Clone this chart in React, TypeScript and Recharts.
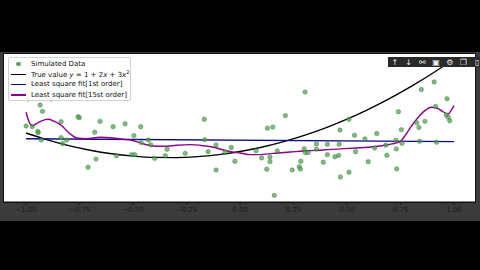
import { ComposedChart, Scatter, Line, XAxis, YAxis } from "recharts";

// simulated data points
const DATA_X = [
  -0.991, -0.883, -0.934, -0.923, -1.0, -0.971, -0.945, -0.943, -0.929, -0.836,
  -0.836, -0.829, -0.81, -0.757, -0.751, -0.679, -0.654, -0.593, -0.673, -0.71,
  -0.578, -0.537, -0.464, -0.496, -0.462, -0.428, -0.417, -0.507, -0.492, -0.399,
  -0.349, -0.341, -0.256, -0.167, -0.165, -0.112, -0.149, -0.112, -0.07, -0.041,
  -0.024, 0.304, 0.212, 0.128, 0.153, 0.075, 0.101, 0.14, 0.14, 0.125,
  0.174, 0.16, 0.284, 0.244, 0.277, 0.282, 0.3, 0.305, 0.318, 0.357,
  0.357, 0.389, 0.408, 0.408, 0.444, 0.461, 0.463, 0.467, 0.469, 0.509,
  0.509, 0.535, 0.54, 0.584, 0.599, 0.629, 0.639, 0.681, 0.686, 0.729,
  0.73, 0.732, 0.757, 0.839, 0.918, 0.907, 0.847, 0.967, 0.74, 0.914,
  0.826, 0.864, 0.836, 0.754, 0.963, 0.973, 0.98,
];
const DATA_Y = [
  3.84, 3.84, 3.51, 3.17, 2.38, 2.35, 2.09, 2.02, 1.62, 2.61,
  1.75, 1.43, 1.62, 2.88, 2.83, 2.04, 2.63, 2.34, 0.59, 0.15,
  0.77, 2.5, 2.34, 1.86, 1.48, 1.62, 1.36, 0.83, 0.83, 0.63,
  0.77, 1.12, 0.9, 2.74, 1.64, 1.35, 0.99, 0.0, 0.97, 1.22,
  0.47, 4.21, 2.94, 2.26, 2.32, 1.04, 0.65, 0.69, 0.45, 0.04,
  1.03, -1.37, 0.47, 0.0, 0.18, 0.05, 1.15, 0.94, 0.94, 1.41,
  1.12, 0.42, 0.83, 1.39, 0.72, 0.79, 1.39, 2.16, -0.38, -0.12,
  2.74, 1.88, 0.99, 1.68, 0.45, 1.19, 1.97, 1.34, 0.8, 1.61,
  1.14, 0.06, 1.44, 1.55, 1.5, 4.76, 4.35, 3.85, 3.15, 3.44,
  2.55, 2.63, 2.3, 2.18, 2.97, 2.85, 2.66,
];

// true value curve
const TRUE_X = [-1, -0.9, -0.8, -0.7, -0.6, -0.5, -0.4, -0.3, -0.2, -0.1, 0, 0.1, 0.2, 0.3, 0.4, 0.5, 0.6, 0.7, 0.8, 0.9, 1];
const TRUE_Y = [2, 1.63, 1.32, 1.07, 0.88, 0.75, 0.68, 0.67, 0.72, 0.83, 1, 1.23, 1.52, 1.87, 2.28, 2.75, 3.28, 3.87, 4.52, 5.23, 6];

// 1st order fit
const FIT1_X = [-1, 1];
const FIT1_Y = [1.69, 1.53];

// 15th order fit, traced
const FIT15_X = [
  -1, -0.985, -0.97, -0.95, -0.927, -0.896, -0.864, -0.833, -0.81, -0.787,
  -0.763, -0.717, -0.654, -0.592, -0.545, -0.498, -0.452, -0.405, -0.358, -0.296,
  -0.234, -0.171, -0.125, -0.078, -0.031, 0.0, 0.047, 0.093, 0.156, 0.234,
  0.312, 0.389, 0.467, 0.545, 0.6, 0.662, 0.709, 0.748, 0.771, 0.802,
  0.833, 0.864, 0.896, 0.919, 0.946, 0.973, 0.986, 1,
];
const FIT15_Y = [
  3.12, 2.58, 2.39, 2.52, 2.66, 2.74, 2.61, 2.39, 2.12, 1.89,
  1.73, 1.69, 1.77, 1.73, 1.66, 1.58, 1.41, 1.3, 1.28, 1.34,
  1.37, 1.31, 1.23, 1.08, 0.96, 0.92, 0.83, 0.83, 0.9, 0.97,
  1.04, 1.08, 1.14, 1.19, 1.23, 1.31, 1.41, 1.53, 1.85, 2.39,
  2.85, 3.21, 3.39, 3.35, 3.17, 3.03, 3.21, 3.48,
];

const X_TICKS = [-1, -0.75, -0.5, -0.25, 0, 0.25, 0.5, 0.75, 1];

const FONT = "'DejaVu Sans', sans-serif";

const pts = (xs: number[], ys: number[]) => xs.map((x, i) => ({ x, y: ys[i] }));

const Dot = (props: any) => (
  <circle cx={props.cx} cy={props.cy} r={2.2} fill="#4f9d4f" fillOpacity={0.7} stroke="#3c7f3c" strokeOpacity={0.8} strokeWidth={0.6} />
);

function LegendBox() {
  const row = { display: "flex", alignItems: "center", height: 10.3 } as const;
  const line = (c: string) => <div style={{ width: 15, height: 1.4, background: c, marginRight: 5 }} />;
  return (
    <div
      style={{
        position: "absolute", left: 8, top: 57, width: 119, height: 41, background: "rgba(255,255,255,0.9)",
        border: "1px solid #d0d0d0", borderRadius: 2, fontFamily: FONT, fontSize: 7, color: "#111",
        padding: "1px 0 0 2px", lineHeight: 1,
      }}
    >
      <div style={row}>
        <div style={{ width: 15, marginRight: 5, display: "flex", justifyContent: "center" }}>
          <div style={{ width: 4.4, height: 4.4, borderRadius: "50%", background: "#5aa35a" }} />
        </div>
        <span>Simulated Data</span>
      </div>
      <div style={row}>
        {line("#000")}
        <span>True value <i>y</i> = 1 + 2<i>x</i> + 3<i>x</i><sup style={{ fontSize: 5 }}>2</sup></span>
      </div>
      <div style={row}>
        {line("#0b0b8a")}
        <span>Least square fit[1st order]</span>
      </div>
      <div style={row}>
        {line("#8b008b")}
        <span>Least square fit[15st order]</span>
      </div>
    </div>
  );
}

function Toolbar() {
  const icons = ["↑", "↓", "⚯", "▣", "⚙", "❐", "▯"];
  return (
    <div
      style={{
        position: "absolute", left: 388, top: 57, width: 96, height: 10, background: "#2a2a2a",
        display: "flex", alignItems: "center", fontFamily: FONT, fontSize: 8, color: "#eee",
      }}
    >
      {icons.map((c, i) => (
        <span key={i} style={{ width: 14.2, textAlign: "center" }}>{c}</span>
      ))}
    </div>
  );
}

export default function App() {
  return (
    <div style={{ position: "fixed", left: 0, top: 0, width: 480, height: 270, background: "#000", overflow: "hidden" }}>
      <div style={{ position: "absolute", left: 0, top: 52, width: 480, height: 169, background: "#3b3b3b" }} />
      <div style={{ position: "absolute", left: 3, top: 53, width: 471, height: 148, background: "#fff", border: "1px solid #111" }} />
      <div style={{ position: "absolute", left: 0, top: 52 }}>
        <ComposedChart width={480} height={169} margin={{ top: 2, right: 5, bottom: 0, left: 4 }}>
          <XAxis
            type="number"
            dataKey="x"
            domain={[-1.103, 1.098]}
            allowDataOverflow
            ticks={X_TICKS}
            interval={0}
            height={19}
            tickSize={3}
            axisLine={{ stroke: "#111" }}
            tickLine={{ stroke: "#1a1a1a" }}
            tick={{ fill: "#1c1c1c", fontSize: 7, fontFamily: FONT }}
            tickFormatter={(v: number) => (v < 0 ? "\u2212" + Math.abs(v).toFixed(2) : v.toFixed(2))}
          />
          <YAxis type="number" dataKey="y" hide domain={[-1.73, 6.27]} allowDataOverflow />
          <Line data={pts(TRUE_X, TRUE_Y)} dataKey="y" type="monotone" stroke="#000" strokeWidth={1.4} dot={false} isAnimationActive={false} />
          <Line data={pts(FIT1_X, FIT1_Y)} dataKey="y" type="linear" stroke="#0b0b8a" strokeWidth={1.3} dot={false} isAnimationActive={false} />
          <Line data={pts(FIT15_X, FIT15_Y)} dataKey="y" type="monotone" stroke="#8b008b" strokeWidth={1.4} dot={false} isAnimationActive={false} />
          <Scatter data={pts(DATA_X, DATA_Y)} dataKey="y" shape={<Dot />} isAnimationActive={false} />
        </ComposedChart>
      </div>
      <LegendBox />
      <Toolbar />
    </div>
  );
}
